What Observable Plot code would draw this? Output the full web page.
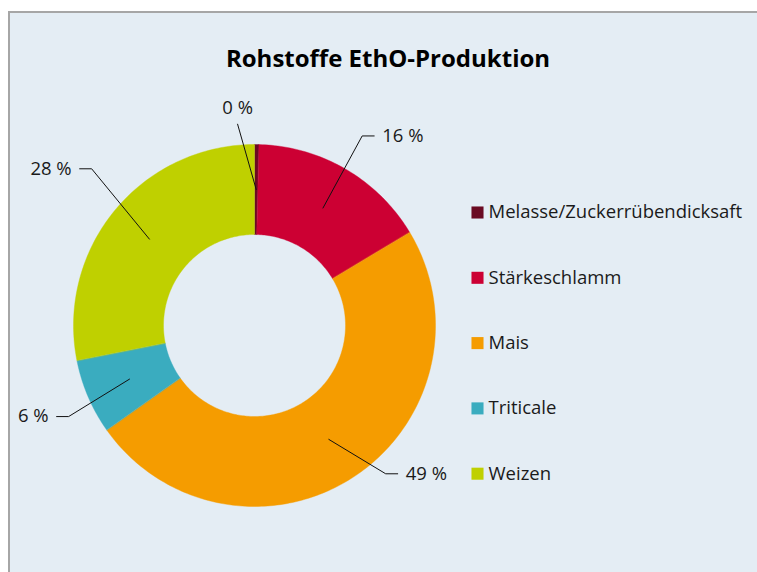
<!DOCTYPE html>
<html>
<head>
<meta charset="utf-8">
<script src="https://cdn.jsdelivr.net/npm/d3@7"></script>
<script src="https://cdn.jsdelivr.net/npm/@observablehq/plot@0.6"></script>
<style>
  html, body { margin: 0; padding: 0; background: #ffffff; overflow: hidden; }
  #frame { position: absolute; left: 8px; top: 11px; width: 760px; height: 570px;
           background: #e4edf4; border-left: 2px solid #a6a6a6; border-top: 2px solid #a6a6a6; }
  #chart { position: absolute; left: 0; top: 0; }
</style>
</head>
<body>
<div id="frame"></div>
<div id="chart"></div>
<script>
// ---- data ----
const categories = ["Melasse/Zuckerrübendicksaft", "Stärkeschlamm", "Mais", "Triticale", "Weizen"];
const shares = [0.4, 16.0, 48.8, 6.7, 28.1];
const labels = ["0 %", "16 %", "49 %", "6 %", "28 %"];
const colors = ["#6a0a22", "#cc0033", "#f59c00", "#3aacbf", "#bfd000"];
const title = "Rohstoffe EthO-Produktion";

// ---- layout ----
const W = 757, H = 572;
const cx = 254, cy = 325;          // donut centre (px)
const outerR = 181, innerR = 91;
const labelAngle = [-4.8, 29.6, 138.5, 243.9, 313.9];   // elbow angle (deg, clockwise from top)
const labelRadius = [202, 218, 198, 207, 226];
const legendX = 477 - cx, legendTop = 212, legendStep = 65.3;
const FONT = "'Open Sans', Lato, sans-serif";

// ---- geometry from data ----
const pie = d3.pie().sort(null).value(d => d)(shares);
const pol = (a, r) => [r * Math.sin(a), r * Math.cos(a)];
const slicePts = [];
pie.forEach((p, i) => {
  const a0 = p.startAngle, a1 = p.endAngle;
  const n = Math.max(2, Math.ceil((a1 - a0) * 180 / Math.PI));
  for (let k = 0; k <= n; k++) {
    const [x, y] = pol(a0 + (a1 - a0) * k / n, outerR);
    slicePts.push({cat: categories[i], x, y});
  }
  for (let k = n; k >= 0; k--) {
    const [x, y] = pol(a0 + (a1 - a0) * k / n, innerR);
    slicePts.push({cat: categories[i], x, y});
  }
});

const leaders = [];
const labelRows = [];
pie.forEach((p, i) => {
  const mid = (p.startAngle + p.endAngle) / 2;
  const [sx, sy] = pol(mid, (outerR + innerR) / 2);
  const [ex, ey] = pol(labelAngle[i] * Math.PI / 180, labelRadius[i]);
  leaders.push({id: i, x: sx, y: sy});
  leaders.push({id: i, x: ex, y: ey});
  if (i === 0) {
    labelRows.push({text: labels[i], x: ex, y: ey + 16, anchor: "middle"});
  } else {
    const dir = ex >= 0 ? 1 : -1;
    leaders.push({id: i, x: ex + dir * 12, y: ey});
    labelRows.push({text: labels[i], x: ex + dir * 20, y: ey, anchor: dir > 0 ? "start" : "end"});
  }
});

const legendRows = categories.map((c, i) => ({cat: c, x: legendX, y: cy - (legendTop + i * legendStep)}));

const labelText = anchor => Plot.text(labelRows.filter(d => d.anchor === anchor),
  {x: "x", y: "y", text: "text", textAnchor: anchor, fontSize: 18.5, fill: "#1a1a1a"});

const chart = Plot.plot({
  width: W, height: H,
  margin: 0,
  style: {background: "transparent", fontFamily: FONT, color: "#1a1a1a"},
  x: {domain: [-cx, W - cx], axis: null},
  y: {domain: [cy - H, cy], axis: null},
  color: {domain: categories, range: colors},
  marks: [
    Plot.line(slicePts, {x: "x", y: "y", z: "cat", fill: "cat", stroke: "cat", strokeWidth: 0.4, curve: "linear-closed"}),
    Plot.line(leaders, {x: "x", y: "y", z: "id", stroke: "#111", strokeWidth: 1}),
    labelText("start"), labelText("end"), labelText("middle"),
    Plot.dot(legendRows, {x: "x", y: "y", symbol: "square", r: 6.8, fill: "cat", stroke: null}),
    Plot.text(legendRows, {x: d => d.x + 11, y: "y", text: "cat", textAnchor: "start", fontSize: 18.5, fill: "#1a1a1a"}),
    Plot.text([title], {frameAnchor: "top", dx: 9, dy: 49, text: d => d, fontSize: 24, fontWeight: "bold", fill: "#000"})
  ]
});
document.getElementById("chart").appendChild(chart);
</script>
</body>
</html>
